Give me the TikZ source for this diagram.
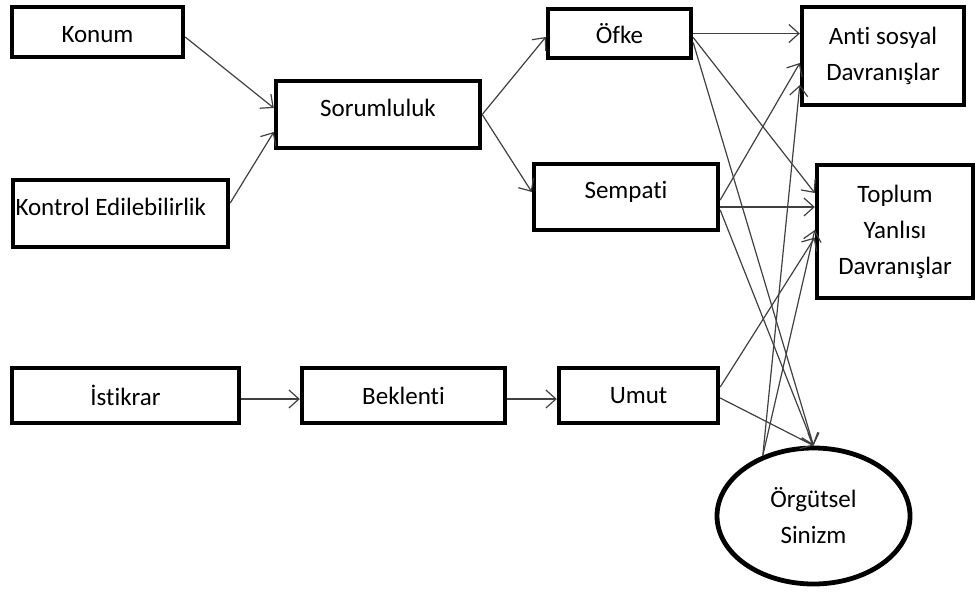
\documentclass[tikz,border=0pt]{standalone}
\usepackage{fontspec}
\setmainfont{Carlito}[Ligatures=NoCommon]
\usetikzlibrary{arrows.meta,positioning,shapes.geometric}

\begin{document}
\begin{tikzpicture}[x=0.5pt, y=-0.5pt, every node/.style={font=\fontsize{12.5}{18}\selectfont},
    box/.style={rectangle, draw, line width=2.2pt, align=center},
    link/.style={-{Straight Barb[length=5pt,width=9pt]}, line width=0.6pt, draw=black!75}]
    \useasboundingbox (0,0) rectangle (977,594);

    % left column
    \node[box, minimum width=85.5pt, minimum height=25pt, text height=10.5pt] (konum) at (97.5,32) {Konum};
    \node[box, minimum width=107.5pt, minimum height=33.5pt, text width=105pt, align=flush left, inner xsep=1.25pt, text depth=6.5pt] (kontrol) at (120.5,213.5) {Kontrol Edilebilirlik};
    \node[box, minimum width=113.5pt, minimum height=27.5pt] (istikrar) at (125.5,395.5) {İstikrar};

    % middle
    \node[box, minimum width=102pt, minimum height=33.5pt, text depth=6.5pt] (sorumluluk) at (378,114.5) {Sorumluluk};
    \node[box, minimum width=101.5pt, minimum height=27.5pt] (beklenti) at (403.5,395.5) {Beklenti};

    \node[box, minimum width=71.5pt, minimum height=24.5pt] (ofke) at (619.5,33.5) {Öfke};
    \node[box, minimum width=92pt, minimum height=33pt, text depth=7.5pt] (sempati) at (626,197) {Sempati};
    \node[box, minimum width=79.5pt, minimum height=27.5pt] (umut) at (638.5,395.5) {Umut};

    % outcomes
    \node[box, minimum width=81pt, minimum height=49pt] (anti) at (883,56) {Anti sosyal\\Davranışlar};
    \node[box, minimum width=78pt, minimum height=66.5pt] (toplum) at (895,231.5) {Toplum\\Yanlısı\\Davranışlar};
    \node[ellipse, draw, line width=2.4pt, align=center, minimum width=96.5pt, minimum height=68pt] (sinizm) at (813.5,516) {Örgütsel\\Sinizm};

    \draw[link] ([yshift=-2.5pt]konum.east) -- ([yshift=3.25pt]sorumluluk.west);
    \draw[link] ([yshift=5.25pt]kontrol.east) -- ([yshift=-8.75pt]sorumluluk.west);
    \draw[link] (sorumluluk.east) -- ([yshift=-1.75pt]ofke.west);
    \draw[link] (sorumluluk.east) -- ([yshift=2.5pt]sempati.west);
    \draw[link] ([yshift=-1.75pt]istikrar.east) -- ([yshift=-1.75pt]beklenti.west);
    \draw[link] ([yshift=-1.75pt]beklenti.east) -- ([yshift=-1.75pt]umut.west);

    \draw[link] (ofke.east) -- (ofke.east -| anti.west);
    \draw[link] ([yshift=-2pt]ofke.east) -- ([yshift=19.25pt]toplum.west);
    \draw[link] ([yshift=-4.5pt]ofke.east) -- (sinizm.north);

    \draw[link] ([yshift=-1.5pt]sempati.east) -- ([yshift=-3.5pt]anti.west);
    \draw[link] ([yshift=-5pt]sempati.east) -- ([yshift=-5pt]sempati.east -| toplum.west);
    \draw[link] ([yshift=-6.5pt]sempati.east) -- (sinizm.north);

    \draw[link] ([yshift=4.25pt]umut.east) -- ([yshift=-3pt]toplum.west);
    \draw[link] ([yshift=-1.25pt]umut.east) -- (sinizm.north);

    \draw[link] (sinizm.130) -- ([yshift=-14.5pt]anti.west);
    \draw[link] (sinizm.130) -- ([yshift=0.75pt]toplum.west);
\end{tikzpicture}
\end{document}
